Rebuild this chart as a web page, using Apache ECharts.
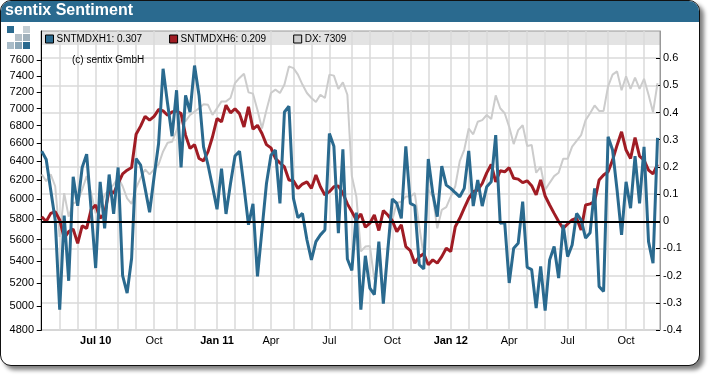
<!DOCTYPE html>
<html>
<head>
<meta charset="utf-8">
<script src="https://cdn.jsdelivr.net/npm/echarts@6/dist/echarts.min.js"></script>
<style>
  html, body { margin: 0; padding: 0; background: #fff; }
  #card {
    position: absolute; left: 0; top: 0; width: 698px; height: 364px;
    background: #fff; border: 1px solid #111; border-radius: 11px;
    box-shadow: 4px 4px 4px #808080; overflow: hidden;
  }
  #bar { height: 21px; background: #2a6a8f; }
  #chart { position: absolute; left: 0; top: 0; width: 710px; height: 376px; }
</style>
</head>
<body>
<div id="card"><div id="bar"></div></div>
<div id="chart"></div>
<script>
const legendNames = ['SNTMDXH1: 0.307', 'SNTMDXH6: 0.209', 'DX: 7309']

const blueValues = [
  0.258, 0.227, 0.115, 0.005, -0.325, 0.021, -0.219, 0.164, 0.057, 0.198,
  0.247, 0.042, -0.172, 0.145, -0.026, 0.172, 0.027, 0.198, -0.2, -0.264,
  -0.136, 0.231, 0.207, 0.121, 0.033, 0.164, 0.286, 0.561, 0.433, 0.313,
  0.482, 0.198, 0.463, 0.402, 0.573, 0.463, 0.274, 0.207, 0.127, 0.044,
  0.194, 0.027, 0.139, 0.24, 0.258, 0.127, -0.013, 0.064, -0.203, -0.032,
  0.139, 0.243, 0.262, 0.066, 0.402, 0.423, 0.084, 0.013, 0.029, -0.068,
  -0.142, -0.075, -0.05, -0.032, 0.323, 0.276, -0.044, 0.265, -0.139, -0.181,
  0.032, -0.325, -0.127, -0.246, -0.27, -0.075, -0.303, -0.105, 0.082, 0.066,
  0.011, 0.276, 0.066, 0.057, -0.16, -0.175, 0.229, 0.103, 0.017, 0.203,
  0.133, 0.121, 0.105, 0.09, 0.121, 0.259, 0.056, 0.152, 0.056, 0.127,
  0.145, 0.317, -0.007, -0.005, -0.227, -0.099, -0.081, 0.072, -0.169, -0.178,
  -0.319, -0.166, -0.329, -0.142, -0.093, -0.209, -0.013, -0.13, -0.087, 0.029,
  0.005, -0.062, -0.042, 0.121, -0.24, -0.258, 0.311, 0.262, 0.115, -0.05,
  0.145, 0.048, 0.24, 0.066, 0.274, -0.075, -0.154, 0.307
]
const redValues = [
  0.017, -0.001, 0.029, 0.035, 0.005, -0.062, -0.038, -0.029, -0.081, -0.017,
  -0.026, 0.044, 0.06, 0.011, 0.029, 0.115, 0.103, 0.139, 0.174, 0.188,
  0.198, 0.32, 0.35, 0.386, 0.372, 0.386, 0.411, 0.406, 0.39, 0.402,
  0.406, 0.396, 0.317, 0.268, 0.282, 0.231, 0.222, 0.256, 0.311, 0.378,
  0.366, 0.427, 0.399, 0.414, 0.396, 0.347, 0.421, 0.339, 0.353, 0.323,
  0.282, 0.27, 0.231, 0.215, 0.2, 0.152, 0.149, 0.121, 0.137, 0.145,
  0.121, 0.17, 0.127, 0.097, 0.109, 0.127, 0.13, 0.103, 0.064, 0.035,
  0.005, 0.027, -0.022, -0.007, 0.023, -0.034, 0.039, 0.023, 0.002, -0.038,
  -0.013, -0.093, -0.108, -0.154, -0.13, -0.12, -0.16, -0.142, -0.154, -0.13,
  -0.099, -0.111, -0.02, 0.011, 0.048, 0.084, 0.109, 0.115, 0.139, 0.178,
  0.209, 0.145, 0.186, 0.182, 0.197, 0.158, 0.155, 0.142, 0.149, 0.131,
  0.097, 0.152, 0.093, 0.06, 0.029, -0.001, -0.026, -0.01, 0.005, 0.011,
  -0.032, 0.06, 0.064, 0.072, 0.152, 0.17, 0.182, 0.225, 0.28, 0.329,
  0.262, 0.231, 0.308, 0.24, 0.225, 0.188, 0.174, 0.209
]
const dxValues = [
  6257, 6186, 6257, 6132, 5626, 6061, 5823, 5957, 5973, 6096,
  6239, 6061, 5857, 5923, 6043, 6096, 6150, 6221, 6132, 6007,
  5950, 6114, 6221, 6311, 6257, 6311, 6364, 6507, 6604, 6615,
  6745, 6864, 6852, 6924, 6964, 7004, 7053, 7045, 6924, 7004,
  7086, 7086, 7127, 7310, 7375, 7429, 7196, 7180, 6984, 6766,
  6984, 7188, 7229, 7188, 7292, 7521, 7500, 7417, 7292, 7188,
  7127, 7078, 7167, 7127, 7417, 7404, 7238, 7321, 7167, 6239,
  6025, 5488, 5533, 5539, 5230, 5412, 5082, 5533, 5790, 5963,
  5973, 6025, 6025, 6061, 5725, 5442, 6096, 6025, 5708, 5890,
  5917, 6025, 6132, 6400, 6525, 6766, 6700, 6844, 6864, 6924,
  6876, 7159, 7004, 6944, 6785, 6589, 6747, 6804, 6568, 6579,
  6275, 6339, 6096, 6168, 6239, 6275, 6425, 6425, 6561, 6626,
  6690, 6864, 6944, 7037, 6972, 6972, 7271, 7417, 7458, 7221,
  7396, 7238, 7379, 7238, 7363, 7167, 6956, 7309
]

// week numbers of the monthly grid lines
const monthWeeks = [4, 8, 12, 17, 21, 25, 30, 34, 39, 43, 47, 51, 56, 60, 64, 69, 73, 78, 82, 86, 91, 95, 99, 104, 108, 112, 117, 121, 126, 130, 134]
const labelWeeks = [12, 25, 39, 51, 64, 78, 91, 104, 117, 130]
const labelTexts = ['{b|Jul 10}', 'Oct', '{b|Jan 11}', 'Apr', 'Jul', 'Oct', '{b|Jan 12}', 'Apr', 'Jul', 'Oct']
const leftTicks = [4800, 5000, 5200, 5400, 5600, 5800, 6000, 6200, 6400, 6600, 6800, 7000, 7200, 7400, 7600]
const rightTicks = [-0.4, -0.3, -0.2, -0.1, 0, 0.1, 0.2, 0.3, 0.4, 0.5, 0.6]

const BLUE = '#2a6a8f'
const RED = '#a01c24'
const GRAY = '#cccccc'
const GRID = '#dadada'
const FONT = '"Liberation Sans", Arial, sans-serif'

function toPairs(values) {
  return values.map((v, i) => [i, v])
}

const logo = [
  [7, 26, BLUE], [23, 26, '#c3cdd3'],
  [15, 34, '#b4c0c8'], [23, 34, '#9fb0bb'],
  [7, 42, '#a9bcc8'], [15, 42, '#8aa6b7'], [23, 42, BLUE]
].map(([x, y, fill]) => ({ type: 'rect', shape: { x, y, width: 7, height: 7 }, style: { fill }, silent: true }))

const chart = echarts.init(document.getElementById('chart'))
chart.setOption({
  animation: false,
  backgroundColor: 'transparent',
  textStyle: { fontFamily: FONT },
  title: {
    text: 'sentix Sentiment', left: 5, top: 2, padding: 0,
    textStyle: { color: '#fff', fontSize: 16, fontWeight: 'bold', fontFamily: FONT, lineHeight: 18 }
  },
  graphic: [
    ...logo,
    { type: 'rect', z: -1, shape: { x: 41, y: 31, width: 619, height: 14 }, style: { fill: '#e3e3e3' }, silent: true },
    { type: 'text', z: 5, left: 72, top: 55, style: { text: '(c) sentix GmbH', fill: '#000', font: '10px ' + FONT }, silent: true }
  ],
  legend: {
    left: 45, top: 34, padding: 0, itemWidth: 8, itemHeight: 8, itemGap: 27,
    icon: 'rect',
    itemStyle: { borderColor: '#000', borderWidth: 1 },
    lineStyle: { width: 0 },
    textStyle: { fontSize: 10, color: '#000', padding: [1, 0, 0, -2], fontFamily: FONT },
    data: legendNames
  },
  grid: { show: true, left: 41, right: 50, top: 31, bottom: 46, borderColor: '#999', borderWidth: 1 },
  xAxis: {
    type: 'value',
    min: -0.16,
    max: 137.55,
    axisLine: { show: true, lineStyle: { color: '#999', width: 1 } },
    axisTick: { show: false, customValues: monthWeeks },
    splitLine: { show: true, lineStyle: { color: GRID, width: 1.5 } },
    axisLabel: {
      customValues: labelWeeks,
      formatter: (v) => labelTexts[labelWeeks.indexOf(v)],
      color: '#000', fontSize: 11, margin: 5,
      rich: { b: { fontWeight: 'bold', fontSize: 11, color: '#000' } }
    }
  },
  yAxis: [
    {
      type: 'log',
      logBase: 10,
      min: 4800,
      max: 7989,
      position: 'left',
      axisLine: { show: true, lineStyle: { color: '#000', width: 1 } },
      axisTick: { show: true, length: 5, customValues: leftTicks, lineStyle: { color: '#000' } },
      splitLine: { show: false },
      minorTick: { show: false },
      axisLabel: { customValues: leftTicks, formatter: (v) => String(Math.round(v)), color: '#000', fontSize: 11, margin: 7 }
    },
    {
      type: 'value',
      min: -0.4,
      max: 0.7,
      position: 'right',
      axisLine: { show: true, lineStyle: { color: '#999', width: 1 } },
      axisTick: { show: true, inside: true, length: 4, customValues: rightTicks, lineStyle: { color: '#000' } },
      splitLine: { show: true, lineStyle: { color: GRID, width: 1.5 } },
      axisLabel: { customValues: rightTicks, color: '#000', fontSize: 11, margin: 3 }
    }
  ],
  series: [
    { name: legendNames[2], type: 'line', yAxisIndex: 0, z: 2, data: toPairs(dxValues), showSymbol: false, itemStyle: { color: GRAY }, lineStyle: { color: GRAY, width: 2 } },
    { name: legendNames[1], type: 'line', yAxisIndex: 1, z: 3, data: toPairs(redValues), showSymbol: false, itemStyle: { color: RED }, lineStyle: { color: RED, width: 3 } },
    {
      name: legendNames[0], type: 'line', yAxisIndex: 1, z: 4, data: toPairs(blueValues), showSymbol: false, itemStyle: { color: BLUE }, lineStyle: { color: BLUE, width: 3 },
      markLine: { silent: true, symbol: 'none', label: { show: false }, z: 6, lineStyle: { color: '#000', width: 2, type: 'solid' }, data: [{ yAxis: 0 }] }
    }
  ]
})
</script>
</body>
</html>
